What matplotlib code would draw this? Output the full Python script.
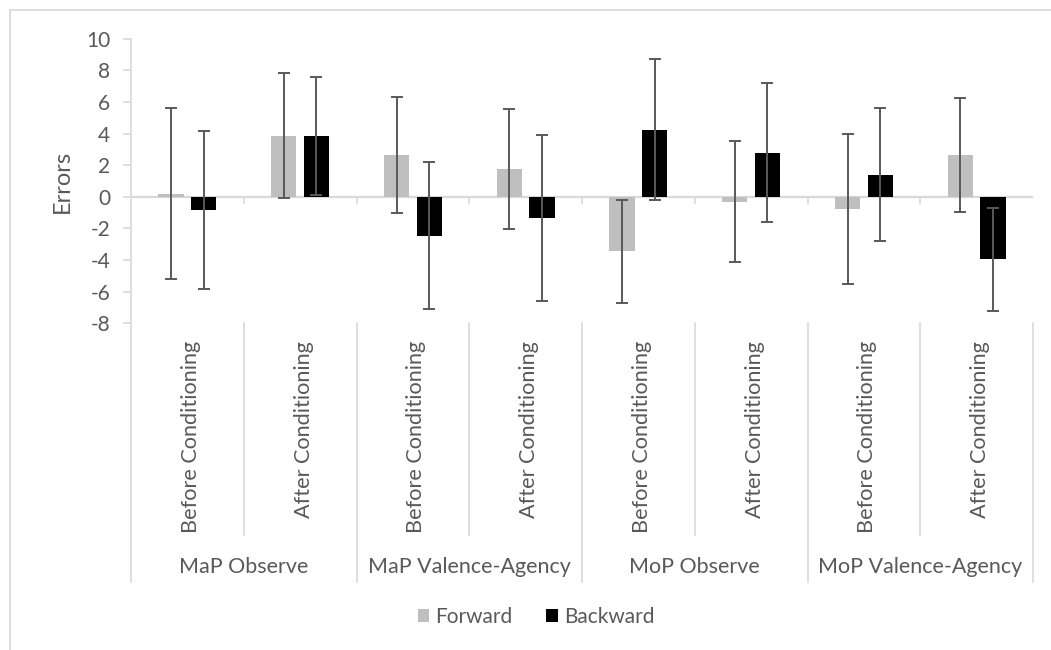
import numpy as np
import matplotlib.pyplot as plt
from matplotlib.lines import Line2D
from matplotlib.transforms import blended_transform_factory

# Groupes et phases de l'axe des catégories
groups = ['MaP Observe', 'MaP Valence-Agency', 'MoP Observe', 'MoP Valence-Agency']
phases = ['Before Conditioning', 'After Conditioning']

# Moyennes et barres d'erreur (8 catégories : groupe x phase)
forward = [0.2, 3.85, 2.65, 1.75, -3.45, -0.3, -0.75, 2.65]
forward_err = [5.4, 3.95, 3.65, 3.8, 3.25, 3.85, 4.75, 3.6]
backward = [-0.85, 3.85, -2.45, -1.35, 4.25, 2.8, 1.4, -3.95]
backward_err = [5.0, 3.75, 4.65, 5.25, 4.45, 4.4, 4.2, 3.25]

text_color = '#595959'
grid_color = '#d9d9d9'
plt.rcParams['font.family'] = ['Lato', 'DejaVu Sans']
plt.rcParams['axes.unicode_minus'] = False

W, H = 1051, 650
fig = plt.figure(figsize=(W / 100, H / 100), dpi=100)

# zone de tracé (en pixels)
left, right, top, bottom = 131, 1033, 38.7, 323.3
ax = fig.add_axes([left / W, 1 - bottom / H, (right - left) / W, (bottom - top) / H])

x = np.arange(len(forward))
width = 0.225
off = 0.145
err_kw = dict(ecolor='#595959', elinewidth=1.4, capsize=4.2, capthick=1.4)

ax.axhline(0, color=grid_color, lw=1.6, zorder=1)
ax.bar(x - off, forward, width, yerr=forward_err, color='#bfbfbf', label='Forward',
       error_kw=err_kw, zorder=2)
ax.bar(x + off, backward, width, yerr=backward_err, color='black', label='Backward',
       error_kw=err_kw, zorder=2)

ax.set_xlim(-0.5, len(forward) - 0.5)
ax.set_ylim(-8, 10)
ax.set_yticks(range(-8, 11, 2))
ax.tick_params(axis='y', length=6, width=1.2, color=grid_color, pad=9,
               labelsize=15, labelcolor=text_color)
ax.set_xticks([])
for s in ['top', 'right', 'bottom']:
    ax.spines[s].set_visible(False)
ax.spines['left'].set_color(grid_color)
ax.spines['left'].set_linewidth(1.2)

ax.set_ylabel('Errors', fontsize=17, color=text_color, va='center')
ax.yaxis.set_label_coords((62 - left) / (right - left), 0.5)

# axe des catégories à deux niveaux, dessiné sous la zone de tracé
tr = blended_transform_factory(ax.transData, ax.transAxes)
h = bottom - top
def ay(py):
    return (bottom - py) / h

# petites graduations sur la ligne du zéro
zero_y = ay(top + 10 * h / 18)
for b in np.arange(0.5, len(forward) - 0.5, 1):
    ax.plot([b, b], [zero_y, zero_y - 6 / h], color=grid_color, lw=1.2,
            transform=tr, clip_on=False)

for b in np.arange(-0.5, len(forward), 1):
    outer = (b + 0.5) % 2 == 0
    y_end = ay(582) if outer else ay(535)
    if b == -0.5:
        y_start = 0
    else:
        y_start = ay(bottom)
    ax.plot([b, b], [y_start, y_end], color=grid_color, lw=1.2,
            transform=tr, clip_on=False)

for i in range(len(forward)):
    ax.text(i + 0.03, ay(341), phases[i % 2], rotation=90, ha='center', va='top',
            fontsize=15.6, color=text_color, transform=tr)

for g, name in enumerate(groups):
    ax.text(2 * g + 0.5, ay(567), name, ha='center', va='center', fontsize=15.5,
            color=text_color, transform=tr)

leg = fig.legend(loc='center', bbox_to_anchor=(536 / W, 1 - 617 / H), ncol=2,
                 frameon=False, fontsize=15, handlelength=0.55, handleheight=0.55,
                 handletextpad=0.3, columnspacing=1.6)
for t in leg.get_texts():
    t.set_color(text_color)

# bordure de la zone du graphique
fig.add_artist(Line2D([10 / W, 1], [1 - 10 / H, 1 - 10 / H], color=grid_color, lw=1.2))
fig.add_artist(Line2D([10 / W, 10 / W], [0, 1 - 10 / H], color=grid_color, lw=1.2))

fig.savefig('out.png', dpi=100)
